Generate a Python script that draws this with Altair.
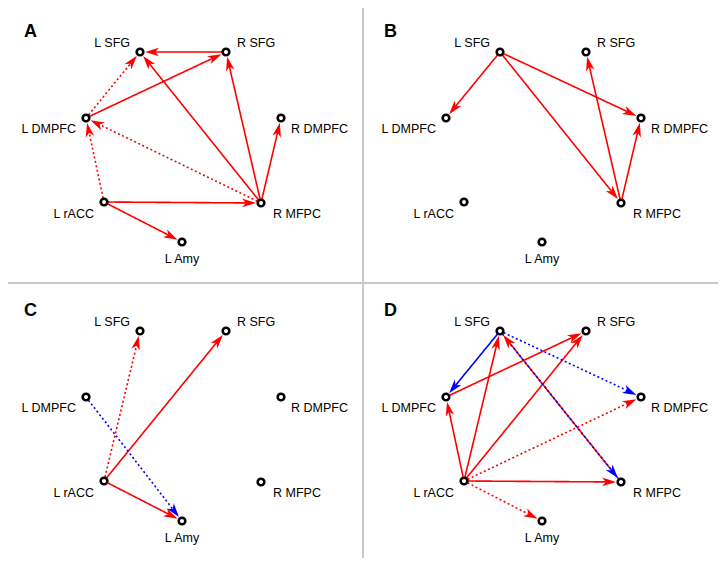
import altair as alt
import pandas as pd
import numpy as np

# ---------------- data ----------------
regions = ["L SFG", "R SFG", "L DMPFC", "R DMPFC", "L rACC", "R MFPC", "L Amy"]
# graph layout coordinates of each region inside a panel
layout_x = [140, 226, 86, 281, 104, 261, 182]
layout_y = [52, 52, 118, 118, 202, 203, 242]

panels = ["A", "B", "C", "D"]
panel_col = [0, 1, 0, 1]
panel_row = [0, 0, 1, 1]

# directed connections: (panel, source, target, sign, significance style)
edges_A = [
    ("A", "R SFG", "L SFG", "pos", "solid"),
    ("A", "L DMPFC", "R SFG", "pos", "solid"),
    ("A", "R MFPC", "L SFG", "pos", "solid"),
    ("A", "R MFPC", "R SFG", "pos", "solid"),
    ("A", "R MFPC", "R DMPFC", "pos", "solid"),
    ("A", "L rACC", "R MFPC", "pos", "solid"),
    ("A", "L rACC", "L Amy", "pos", "solid"),
    ("A", "L DMPFC", "L SFG", "pos", "dotted"),
    ("A", "R MFPC", "L DMPFC", "pos", "dotted"),
    ("A", "L rACC", "L DMPFC", "pos", "dotted"),
]
edges_B = [
    ("B", "L SFG", "L DMPFC", "pos", "solid"),
    ("B", "L SFG", "R DMPFC", "pos", "solid"),
    ("B", "L SFG", "R MFPC", "pos", "solid"),
    ("B", "R MFPC", "R SFG", "pos", "solid"),
    ("B", "R MFPC", "R DMPFC", "pos", "solid"),
]
edges_C = [
    ("C", "L rACC", "L SFG", "pos", "dotted"),
    ("C", "L rACC", "R SFG", "pos", "solid"),
    ("C", "L rACC", "L Amy", "pos", "solid"),
    ("C", "L DMPFC", "L Amy", "neg", "dotted"),
]
edges_D = [
    ("D", "L SFG", "L DMPFC", "neg", "solid"),
    ("D", "L DMPFC", "R SFG", "pos", "solid"),
    ("D", "L rACC", "L DMPFC", "pos", "solid"),
    ("D", "L rACC", "L SFG", "pos", "solid"),
    ("D", "L rACC", "R SFG", "pos", "solid"),
    ("D", "L rACC", "R MFPC", "pos", "solid"),
    ("D", "R MFPC", "L SFG", "pos", "solid"),
    ("D", "L SFG", "R DMPFC", "neg", "dotted"),
    ("D", "L SFG", "R MFPC", "neg", "dotted"),
    ("D", "L rACC", "R DMPFC", "pos", "dotted"),
    ("D", "L rACC", "L Amy", "pos", "dotted"),
]

# ---------------- layout / style ----------------
PITCH_X, PITCH_Y = 360, 279
NODE_R = 5.0      # arrow tip distance from node centre
ARROW_LEN = 14.0
SRC_GAP = 4.0

label_style = {  # dx, dy, align
    "L SFG": (-10, -5, "right"),
    "R SFG": (11, -5, "left"),
    "L DMPFC": (-10, 15, "right"),
    "R DMPFC": (10, 15, "left"),
    "L rACC": (-10, 16, "right"),
    "R MFPC": (12, 15, "left"),
    "L Amy": (0, 21, "center"),
}
sign_color = {"pos": "#ff0000", "neg": "#0000ff"}

pos = {r: (x, y) for r, x, y in zip(regions, layout_x, layout_y)}
poff = {p: (c * PITCH_X, r * PITCH_Y) for p, c, r in zip(panels, panel_col, panel_row)}

node_rows, label_rows = [], []
for p in panels:
    ox, oy = poff[p]
    for r in regions:
        x, y = pos[r]
        node_rows.append({"x": x + ox, "y": y + oy})
        dx, dy, al = label_style[r]
        label_rows.append({"x": x + ox + dx, "y": y + oy + dy, "text": r, "align": al})
nodes = pd.DataFrame(node_rows)
labels = pd.DataFrame(label_rows)

edge_rows = []
for p, s, t, sign, style in edges_A + edges_B + edges_C + edges_D:
    ox, oy = poff[p]
    x1, y1 = pos[s][0] + ox, pos[s][1] + oy
    x2, y2 = pos[t][0] + ox, pos[t][1] + oy
    L = np.hypot(x2 - x1, y2 - y1)
    ux, uy = (x2 - x1) / L, (y2 - y1) / L
    tipx, tipy = x2 - NODE_R * ux, y2 - NODE_R * uy
    cx, cy = tipx - ARROW_LEN / 2 * ux, tipy - ARROW_LEN / 2 * uy
    ang = np.degrees(np.arctan2(ux, -uy)) % 360
    edge_rows.append({
        "x": x1 + SRC_GAP * ux, "y": y1 + SRC_GAP * uy,
        "x2": cx, "y2": cy, "ax": cx, "ay": cy, "angle": ang,
        "color": sign_color[sign], "style": style,
    })
edges = pd.DataFrame(edge_rows)

letters = pd.DataFrame({
    "x": [24 + poff[p][0] for p in panels],
    "y": [37 + poff[p][1] for p in panels],
    "text": panels,
})
dividers = pd.DataFrame({
    "x": [363, 3], "y": [0, 283], "x2": [363, 726], "y2": [566, 283],
})

W, H = 710, 550
xs = alt.Scale(domain=[8, 8 + W], nice=False, zero=False)
ys = alt.Scale(domain=[8, 8 + H], nice=False, zero=False, reverse=True)
X = lambda f: alt.X(f, scale=xs, axis=None)
Y = lambda f: alt.Y(f, scale=ys, axis=None)

div_layer = alt.Chart(dividers).mark_rule(color="#c8c8c8", strokeWidth=2).encode(
    x=X("x:Q"), y=Y("y:Q"), x2="x2:Q", y2="y2:Q")

edge_layer = alt.Chart(edges).mark_rule(strokeWidth=1.6).encode(
    x=X("x:Q"), y=Y("y:Q"), x2="x2:Q", y2="y2:Q",
    color=alt.Color("color:N", scale=None),
    strokeDash=alt.StrokeDash("style:N", scale=alt.Scale(domain=["solid", "dotted"], range=[[1, 0], [2, 2.5]]), legend=None),
)

arrow_layer = alt.Chart(edges).mark_point(
    shape="M0,-1L0.62,1L0,0.45L-0.62,1Z", filled=True, opacity=1, size=ARROW_LEN ** 2, strokeWidth=0
).encode(
    x=X("ax:Q"), y=Y("ay:Q"),
    color=alt.Color("color:N", scale=None),
    angle=alt.Angle("angle:Q", scale=None),
)

node_layer = alt.Chart(nodes).mark_point(
    shape="circle", filled=False, fill="white", fillOpacity=1, stroke="black", strokeWidth=2.6, size=44, opacity=1
).encode(x=X("x:Q"), y=Y("y:Q"))

label_layers = []
for al in ["left", "right", "center"]:
    label_layers.append(
        alt.Chart(labels[labels["align"] == al]).mark_text(
            align=al, baseline="alphabetic", font="Liberation Sans", fontSize=12.5, color="black"
        ).encode(x=X("x:Q"), y=Y("y:Q"), text="text:N")
    )

letter_layer = alt.Chart(letters).mark_text(
    align="left", baseline="alphabetic", font="Liberation Sans", fontSize=18, fontWeight="bold", color="black"
).encode(x=X("x:Q"), y=Y("y:Q"), text="text:N")

chart = alt.layer(div_layer, edge_layer, arrow_layer, node_layer, *label_layers, letter_layer).properties(
    width=W, height=H, padding=0, autosize="none"
).configure_view(stroke=None)

chart.save("out.html", embed_options={"renderer": "svg", "actions": False})
